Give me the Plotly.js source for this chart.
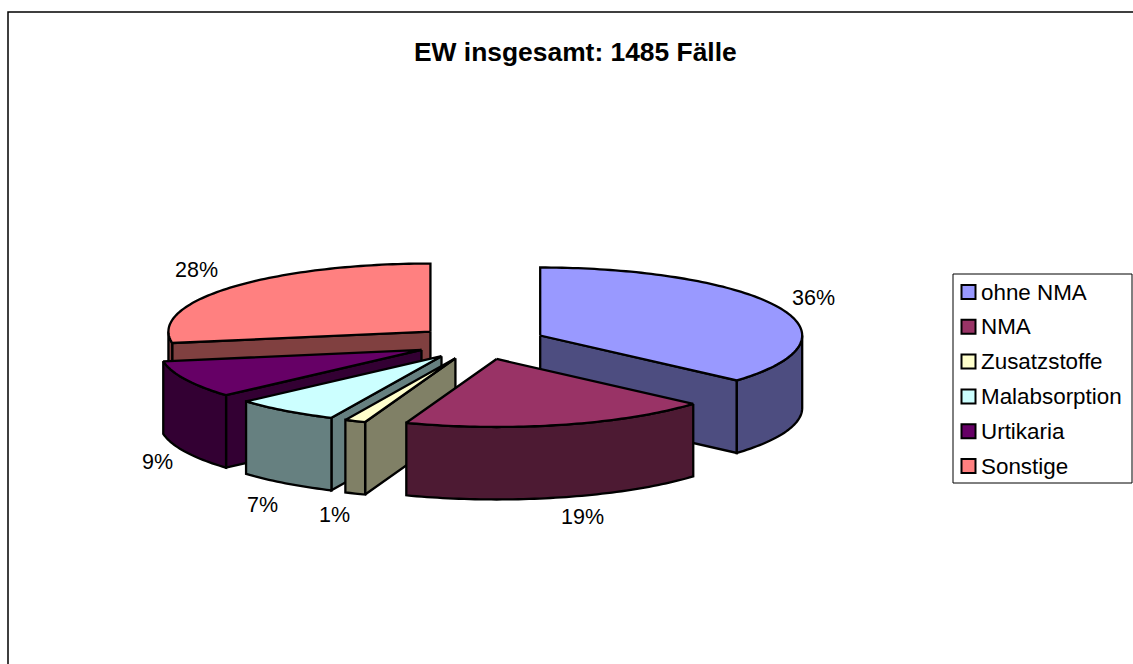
<!DOCTYPE html>
<html>
<head>
<meta charset="utf-8">
<script src="https://cdn.plot.ly/plotly-3.0.1.min.js"></script>
<style>html,body{margin:0;padding:0;background:#fff;overflow:hidden}#chart{width:1133px;height:664px}</style>
</head>
<body>
<div id="chart"></div>
<script>
const categories = ['ohne NMA', 'NMA', 'Zusatzstoffe', 'Malabsorption', 'Urtikaria', 'Sonstige'];
const shares = [36.49, 19.11, 1.3, 6.5, 8.9, 27.7];
const topColors = ['#9999FF', '#993366', '#FFFFCC', '#CCFFFF', '#660066', '#FF8080'];
const wallColors = ['#4D4D80', '#4D1A33', '#808066', '#668080', '#330033', '#804040'];
const labelAnchors = [[813, 298], [582, 517], [334, 515], [262.5, 505], [157, 462], [196, 270]];
const drawOrder = [5, 4, 3, 2, 0, 1];

const CX = 480.5, CY = 342.5, RX = 262, RY = 68, DEPTH = 72.5, EXPLODE = 0.25;
const FONT = '"Liberation Sans", Arial, sans-serif';

function rad(pct) { return pct / 100 * 2 * Math.PI; }
function pt(apex, pct, dy) {
  return [apex[0] + RX * Math.sin(rad(pct)), apex[1] - RY * Math.cos(rad(pct)) + (dy || 0)];
}
function arc(apex, a, b, dy) {
  const n = Math.max(2, Math.ceil(Math.abs(b - a) * 3)), out = [];
  for (let i = 0; i <= n; i++) out.push(pt(apex, a + (b - a) * i / n, dy));
  return out;
}
function poly(points, fill) {
  const closed = points.concat([points[0]]);
  return {
    type: 'scatter', mode: 'lines', x: closed.map(p => p[0]), y: closed.map(p => p[1]),
    fill: 'toself', fillcolor: fill, line: {color: '#000', width: 2.3, simplify: false},
    hoverinfo: 'skip', showlegend: false
  };
}

let cum = 0;
const slices = shares.map((v, i) => {
  const a = cum, b = cum + v; cum = b;
  const mid = (a + b) / 2;
  const apex = [CX + EXPLODE * RX * Math.sin(rad(mid)), CY - EXPLODE * RY * Math.cos(rad(mid))];
  return {a, b, apex, i};
});

const traces = [];
drawOrder.forEach(i => {
  const s = slices[i];
  const lo = Math.max(s.a, 25), hi = Math.min(s.b, 75);
  // radial wall that faces the viewer
  const edge = s.b <= 50 ? s.b : (s.a >= 50 ? s.a : null);
  if (edge !== null) {
    const c = pt(s.apex, edge);
    traces.push(poly([s.apex, c, [c[0], c[1] + DEPTH], [s.apex[0], s.apex[1] + DEPTH]], wallColors[i]));
  }
  // curved outer wall on the near half of the ellipse
  if (hi > lo) {
    traces.push(poly(arc(s.apex, lo, hi, 0).concat(arc(s.apex, hi, lo, DEPTH)), wallColors[i]));
  }
  // top face
  traces.push(poly([s.apex].concat(arc(s.apex, s.a, s.b, 0)), topColors[i]));
});

const annotations = [{
  x: 575.5, y: 52, xref: 'x', yref: 'y', text: '<b>EW insgesamt: 1485 Fälle</b>', showarrow: false,
  font: {family: FONT, size: 26.4, color: '#000'}, xanchor: 'center', yanchor: 'middle'
}];
shares.forEach((v, i) => annotations.push({
  x: labelAnchors[i][0], y: labelAnchors[i][1], xref: 'x', yref: 'y', text: Math.round(v) + '%',
  showarrow: false, font: {family: FONT, size: 21.5, color: '#000'}, xanchor: 'center', yanchor: 'middle'
}));

const shapes = [
  {type: 'rect', xref: 'x', yref: 'y', x0: 8, x1: 1150, y0: 12, y1: 700, line: {color: '#000', width: 1.5}, fillcolor: 'rgba(0,0,0,0)', layer: 'below'},
  {type: 'rect', xref: 'x', yref: 'y', x0: 953, x1: 1132, y0: 274, y1: 483, line: {color: '#000', width: 1}, fillcolor: 'rgba(0,0,0,0)'}
];
categories.forEach((c, i) => {
  const yc = 292 + i * 34.8;
  shapes.push({type: 'rect', xref: 'x', yref: 'y', x0: 961.5, x1: 975.5, y0: yc - 7, y1: yc + 7, line: {color: '#000', width: 2}, fillcolor: topColors[i]});
  annotations.push({x: 981, y: yc, xref: 'x', yref: 'y', text: c, showarrow: false, xanchor: 'left', yanchor: 'middle', xshift: -2, font: {family: FONT, size: 22.4, color: '#000'}});
});

Plotly.newPlot('chart', traces, {
  width: 1133, height: 664, margin: {l: 0, r: 0, t: 0, b: 0},
  paper_bgcolor: '#fff', plot_bgcolor: '#fff', showlegend: false,
  xaxis: {range: [0, 1133], visible: false, fixedrange: true},
  yaxis: {range: [664, 0], visible: false, fixedrange: true},
  shapes, annotations
}, {staticPlot: true, displayModeBar: false});
</script>
</body>
</html>
